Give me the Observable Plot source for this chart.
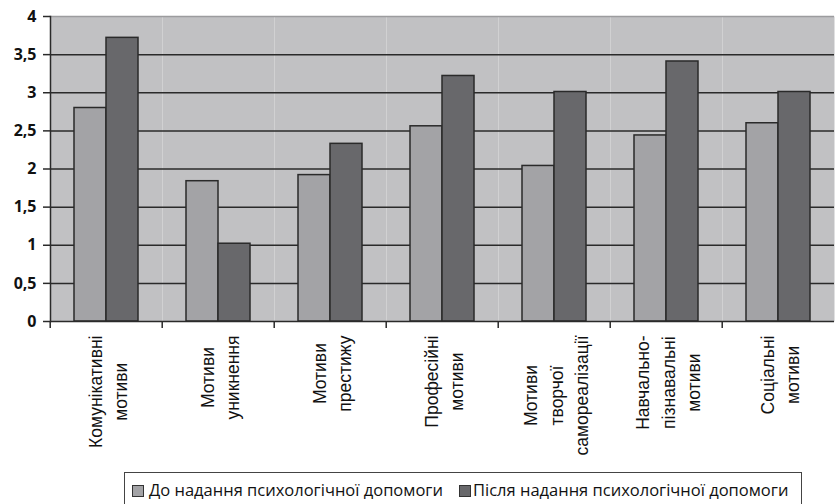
<!DOCTYPE html>
<html><head><meta charset="utf-8">
<script src="https://cdn.jsdelivr.net/npm/d3@7"></script>
<script src="https://cdn.jsdelivr.net/npm/@observablehq/plot@0.6"></script>
<style>
html,body{margin:0;background:#fff;overflow:hidden;}
#wrap{position:relative;width:836px;height:504px;}
#legend{position:absolute;left:124px;top:472px;width:678px;height:34px;border:1px solid #444;border-bottom:none;box-sizing:border-box;font-family:"Open Sans",sans-serif;font-size:16.5px;color:#111;}
.sw{position:absolute;top:12px;width:12px;height:12px;border:1px solid #333;box-sizing:border-box;}
.lt{position:absolute;top:6px;white-space:nowrap;line-height:22px;}
</style></head><body>
<div id="wrap"><div id="chart"></div><div id="legend"></div></div>
<script>
const categories = ["Комунікативні\nмотиви","Мотиви\nуникнення","Мотиви\nпрестижу","Професійні\nмотиви","Мотиви\nтворчої\nсамореалізації","Навчально-\nпізнавальні\nмотиви","Соціальні\nмотиви"];
const series = ["До надання психологічної допомоги","Після надання психологічної допомоги"];
const before = [2.80, 1.84, 1.92, 2.56, 2.04, 2.44, 2.60];
const after  = [3.72, 1.02, 2.33, 3.22, 3.01, 3.41, 3.01];
const yTicks = [0,0.5,1,1.5,2,2.5,3,3.5,4];
const colors = ["#a3a3a6","#68686b"];

const data = categories.flatMap((c,i)=>[
  {category:c, series:series[0], value:before[i]},
  {category:c, series:series[1], value:after[i]}
]);
const W=836, H=471, mL=48, mR=0, mT=16, mB=150;
const bandW = (W-mL-mR)/categories.length;
const ink = "#2a2a2a";
const labelSize = 17.5, labelFont = "Liberation Sans";

const ctx = document.createElement("canvas").getContext("2d");
ctx.font = `${labelSize}px "${labelFont}"`;
const labelMarks = categories.map(c => {
  const maxLen = d3.max(c.split("\n"), l => ctx.measureText(l).width);
  return Plot.text([c], {fx:d=>d, text:d=>d, frameAnchor:"bottom", rotate:-90, textAnchor:"middle",
    lineAnchor:"middle", dy:14 + maxLen/2, lineHeight:1.43, fontSize:labelSize, fontFamily:labelFont, fill:"#111"});
});

const plot = Plot.plot({
  width:W, height:H, marginLeft:mL, marginRight:mR, marginTop:mT, marginBottom:mB,
  style:{background:"#fff", overflow:"visible"},
  fx:{domain:categories, padding:0, axis:null},
  x:{domain:series, paddingInner:0, paddingOuter:0.74, axis:null},
  y:{domain:[0,4], axis:null},
  color:{domain:series, range:colors},
  marks:[
    Plot.frame({fill:"#c1c1c3"}),
    Plot.gridY(yTicks.filter(t=>t>0 && t<4), {stroke:ink, strokeOpacity:1, strokeWidth:1.5}),
    Plot.ruleY([4], {stroke:"#9c9c9e", strokeWidth:1.5}),
    Plot.barY(data, {fx:"category", x:"series", y:"value", fill:"series", stroke:ink, strokeWidth:1.5}),
    Plot.ruleY([0], {stroke:ink, strokeWidth:1.5}),
    Plot.frame({anchor:"left", facetAnchor:"left", stroke:ink, strokeWidth:1.5}),
    Plot.axisY({ticks:yTicks, label:null, tickFormat:d=>String(d).replace(".",","), tickSize:7, tickPadding:7,
      fontSize:16, fontWeight:"bold", fontFamily:"Open Sans", fill:"#111", stroke:ink, strokeWidth:1.5}),
    Plot.axisFx({anchor:"bottom", label:null, tickSize:7, tickFormat:()=>"", dx:-bandW/2, stroke:ink, strokeWidth:1.5}),
    ...labelMarks
  ]
});
document.getElementById("chart").append(plot);

const leg = document.getElementById("legend");
const swLeft = [7, 334], txLeft = [24, 348];
series.forEach((s,i)=>{
  const sw = document.createElement("span"); sw.className="sw";
  sw.style.left = swLeft[i]+"px"; sw.style.background = colors[i];
  const tx = document.createElement("span"); tx.className="lt";
  tx.style.left = txLeft[i]+"px"; tx.textContent = s;
  leg.append(sw, tx);
});
</script>
</body></html>
